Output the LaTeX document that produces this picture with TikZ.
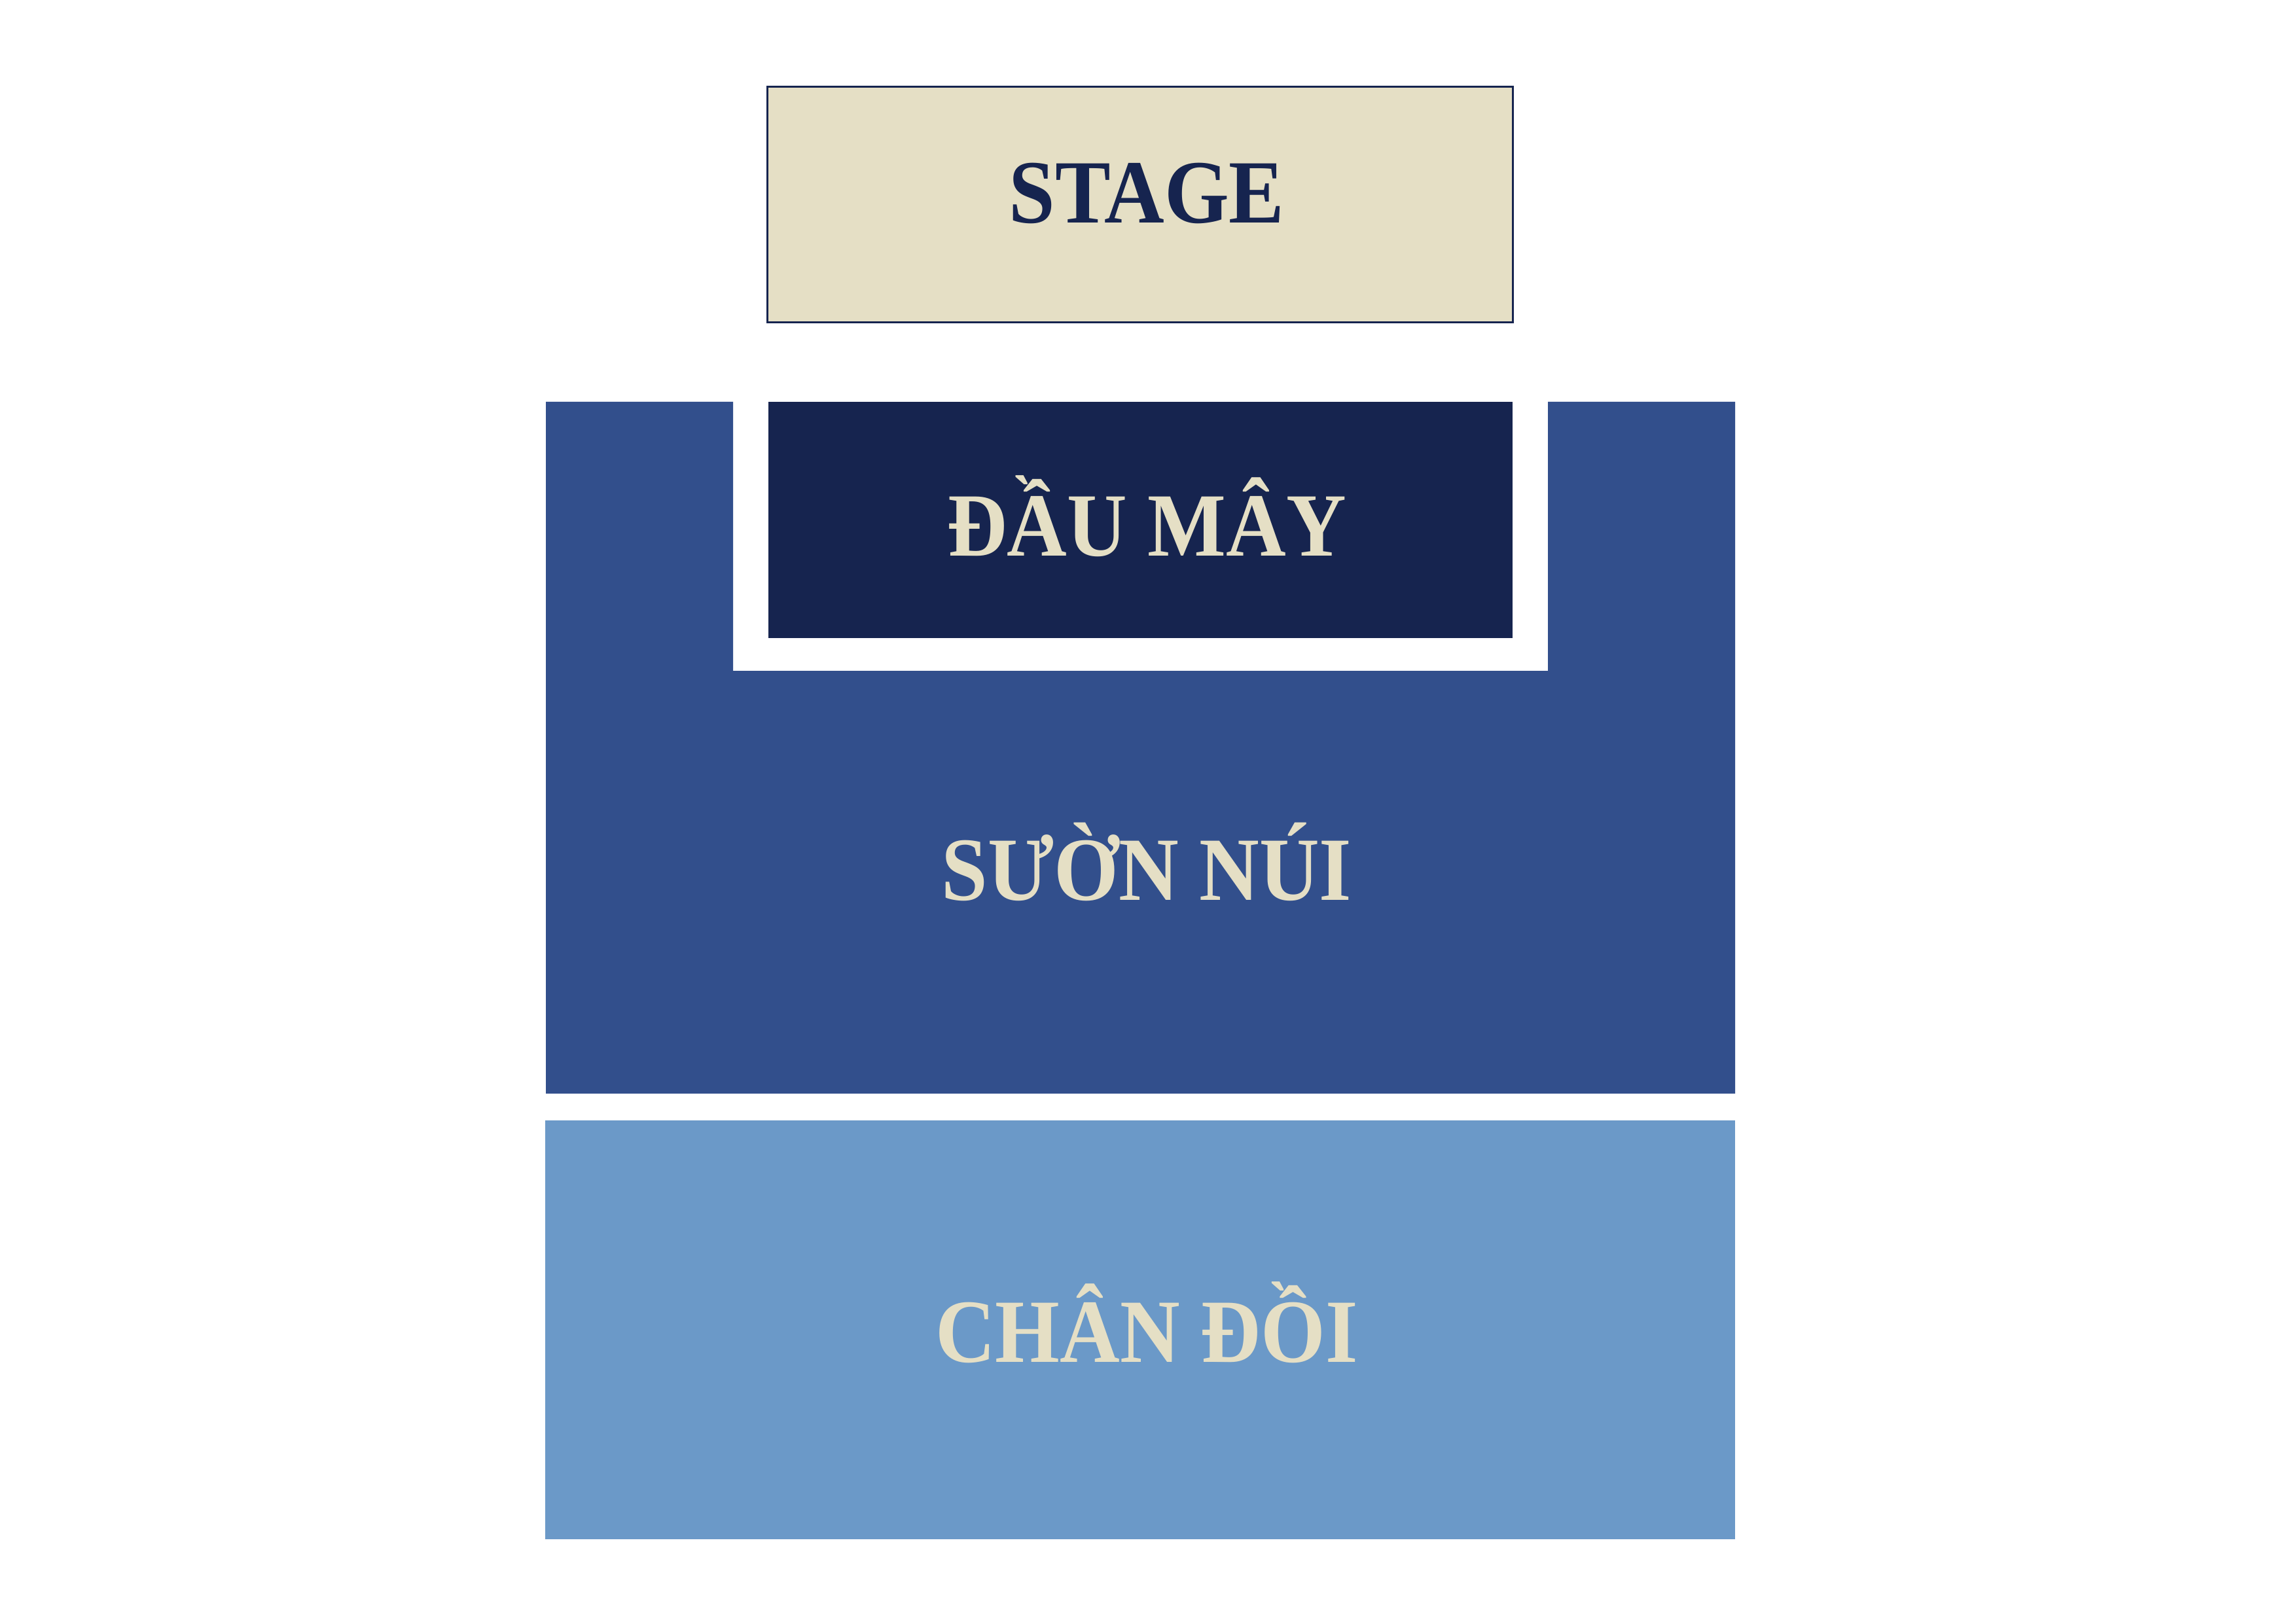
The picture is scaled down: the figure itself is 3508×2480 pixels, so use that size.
\documentclass[tikz,border=0pt]{standalone}
\usepackage{fontspec}
\setmainfont{Liberation Serif}[FakeStretch=0.92]
\definecolor{cream}{HTML}{E5DFC5}
\definecolor{navy}{HTML}{16244F}
\definecolor{midblue}{HTML}{324F8C}
\definecolor{lightblue}{HTML}{6B99C8}
\tikzset{
  zonelabel/.style={anchor=base, inner sep=0pt, font=\fontsize{34.5}{40}\selectfont\bfseries},
}
\begin{document}
\begin{tikzpicture}[x=0.25pt, y=-0.25pt]
\useasboundingbox (0,0) rectangle (3508,2480);
% stage
\draw[navy, line width=0.75pt, fill=cream] (1172.5,132.5) rectangle (2311.5,492.5);
\node[zonelabel, text=navy] (stage) at (1752,341) {STAGE};
% suon nui (U shape)
\fill[midblue] (834,614) -- (1120,614) -- (1120,1025) -- (2365,1025) -- (2365,614)
  -- (2651,614) -- (2651,1671) -- (834,1671) -- cycle;
\node[zonelabel, text=cream] (suonnui) at (1752,1375) {SƯỜN NÚI};
% dau may
\fill[navy] (1174,614) rectangle (2311,975);
\node[zonelabel, text=cream] (daumay) at (1752,850) {ĐẦU MÂY};
% chan doi
\fill[lightblue] (833,1712) rectangle (2651,2352);
\node[zonelabel, text=cream] (chandoi) at (1752,2081) {CHÂN ĐỒI};
\end{tikzpicture}
\end{document}
